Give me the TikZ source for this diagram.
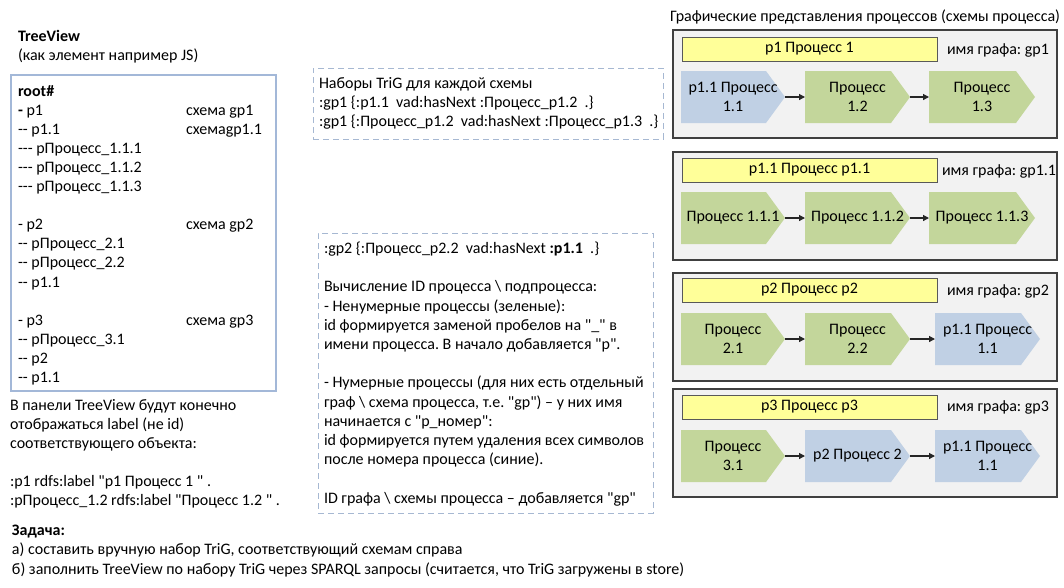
\documentclass[tikz,border=0pt]{standalone}
\usepackage{fontspec}
\setmainfont{Carlito}[Ligatures=TeXOff]
\usetikzlibrary{arrows.meta}
\frenchspacing
\definecolor{treeblue}{HTML}{A3B8D8}
\definecolor{dashblue}{HTML}{A6B8D2}
\definecolor{panelfill}{HTML}{F2F2F2}
\definecolor{paneldraw}{HTML}{404040}
\definecolor{ybarfill}{HTML}{FFFF99}
\definecolor{ybardraw}{HTML}{595959}
\definecolor{chgreen}{HTML}{C3D69B}
\definecolor{chblue}{HTML}{C0D0E4}
\definecolor{arrcol}{HTML}{262626}
\begin{document}
\frenchspacing
\begin{tikzpicture}[x=1pt,y=-1pt,
  every node/.style={inner sep=0pt,outer sep=0pt},
  txt/.style={font=\fontsize{16}{19.1}\selectfont,align=left,anchor=base west},
  calctxt/.style={font=\fontsize{16}{19.2}\selectfont,align=left,anchor=base west},
  smalltxt/.style={font=\fontsize{16}{19.5}\selectfont,align=left,anchor=base west},
  treebox/.style={draw=treeblue,line width=2pt,anchor=north west},
  dashbox/.style={draw=dashblue,line width=1pt,dash pattern=on 6pt off 4pt,anchor=north west},
  panel/.style={draw=paneldraw,fill=panelfill,line width=1.2pt,anchor=north west,minimum width=384,minimum height=108},
  ybar/.style={draw=ybardraw,fill=ybarfill,line width=1pt,anchor=north west,minimum width=255,minimum height=24,font=\fontsize{16}{19}\selectfont},
  chev/.style 2 args={anchor=north west,minimum width=#2,minimum height=52,align=center,
    font=\fontsize{16}{19}\selectfont,
    path picture={\fill[#1] (path picture bounding box.north west)
      -- ([xshift=-19pt]path picture bounding box.north east)
      -- (path picture bounding box.east)
      -- ([xshift=-19pt]path picture bounding box.south east)
      -- (path picture bounding box.south west) -- cycle;}},
  arr/.style={draw=arrcol,line width=1.2pt,-{Triangle[length=6pt,width=6pt]}}
]
\useasboundingbox (0,0) rectangle (1064,587);

% ---------- left: TreeView ----------
\node[txt,font=\bfseries\fontsize{16}{19.1}\selectfont] (tvtitle) at (18,41) {TreeView};
\node[txt] (tvsub) at (18,60) {(как элемент например JS)};
\node[treebox,minimum width=265,minimum height=316] (tv) at (11,75) {};
% base anchor = baseline of last line
\node[txt] (tvleft) at (18,382.5) {\textbf{root\#}\\
\textbf{-} p1\\
-- p1.1\\
--- pПроцесс\_1.1.1\\
--- pПроцесс\_1.1.2\\
--- pПроцесс\_1.1.3\\
~\\
- p2\\
-- pПроцесс\_2.1\\
-- pПроцесс\_2.2\\
-- p1.1\\
~\\
- p3\\
-- pПроцесс\_3.1\\
-- p2\\
-- p1.1};
\node[txt] (tvr1) at (186,134.1) {схема gp1\\схемаgp1.1};
\node[txt] (tvr2) at (186,229) {схема gp2};
\node[txt] (tvr3) at (186,325) {схема gp3};

\node[txt] (note) at (10,505.5) {В панели TreeView будут конечно\\
отображаться label (не id)\\
соответствующего объекта:\\
~\\
:p1 rdfs:label "p1 Процесс 1 " .\\
:pПроцесс\_1.2 rdfs:label "Процесс 1.2 " .};

\node[smalltxt] (task) at (12,574) {\textbf{Задача:}\\
а) составить вручную набор TriG, соответствующий схемам справа\\
б) заполнить TreeView по набору TriG через SPARQL запросы (считается, что TriG загружены в store)};

% ---------- middle ----------
\node[dashbox,minimum width=350,minimum height=71] (trig) at (313,68) {};
\node[txt] (trigtext) at (319,126.2) {Наборы TriG для каждой схемы\\
:gp1 \{:p1.1~ vad:hasNext :Процесс\_p1.2~ .\}\\
:gp1 \{:Процесс\_p1.2~ vad:hasNext :Процесс\_p1.3~ .\}};

\node[dashbox,minimum width=335,minimum height=280] (calc) at (318,233) {};
\node[calctxt] (calctext) at (324,503) {:gp2 \{:Процесс\_p2.2~ vad:hasNext \textbf{:p1.1}~ .\}\\
~\\
Вычисление ID процесса \textbackslash{} подпроцесса:\\
- Ненумерные процессы (зеленые):\\
id формируется заменой пробелов на "\_" в\\
имени процесса. В начало добавляется "p".\\
~\\
- Нумерные процессы (для них есть отдельный\\
граф \textbackslash{} схема процесса, т.е. "gp") – у них имя\\
начинается с "p\_номер":\\
id формируется путем удаления всех символов\\
после номера процесса (синие).\\
~\\
ID графа \textbackslash{} схемы процесса – добавляется "gp"};

% ---------- right: schemes ----------
\node[txt] (rtitle) at (670,21) {Графические представления процессов (схемы процесса)};

% panel 1
\node[panel] (g1) at (673,30) {};
\node[ybar] (t1) at (682,37) {p1 Процесс 1};
\node[txt] (n1) at (947,54) {имя графа: gp1};
\node[chev={chblue}{104}] (a1) at (681,71) {p1.1 Процесс\\1.1};
\node[chev={chgreen}{105}] (a2) at (805,71) {Процесс\\1.2};
\node[chev={chgreen}{106}] (a3) at (929,71) {Процесс\\1.3};
\draw[arr] (a1.east) -- (a2.west);
\draw[arr] (a2.east) -- (a3.west);

% panel 2
\node[panel] (g2) at (673,152) {};
\node[ybar] (t2) at (682,158) {p1.1 Процесс p1.1};
\node[txt] (n2) at (942,175) {имя графа: gp1.1};
\node[chev={chgreen}{104}] (b1) at (681,192) {Процесс 1.1.1};
\node[chev={chgreen}{105}] (b2) at (805,192) {Процесс 1.1.2};
\node[chev={chgreen}{106}] (b3) at (929,192) {Процесс 1.1.3};
\draw[arr] (b1.east) -- (b2.west);
\draw[arr] (b2.east) -- (b3.west);

% panel 3
\node[panel] (g3) at (673,273) {};
\node[ybar] (t3) at (682,278) {p2 Процесс p2};
\node[txt] (n3) at (947,295) {имя графа: gp2};
\node[chev={chgreen}{104}] (c1) at (681,313) {Процесс\\2.1};
\node[chev={chgreen}{105}] (c2) at (805,313) {Процесс\\2.2};
\node[chev={chblue}{105}] (c3) at (935,313) {p1.1 Процесс\\1.1};
\draw[arr] (c1.east) -- (c2.west);
\draw[arr] (c2.east) -- (c3.west);

% panel 4
\node[panel] (g4) at (673,389) {};
\node[ybar] (t4) at (682,395) {p3 Процесс p3};
\node[txt] (n4) at (947,411) {имя графа: gp3};
\node[chev={chgreen}{104}] (d1) at (681,430) {Процесс\\3.1};
\node[chev={chblue}{105}] (d2) at (805,430) {p2 Процесс 2};
\node[chev={chblue}{105}] (d3) at (935,430) {p1.1 Процесс\\1.1};
\draw[arr] (d1.east) -- (d2.west);
\draw[arr] (d2.east) -- (d3.west);
\end{tikzpicture}
\end{document}
